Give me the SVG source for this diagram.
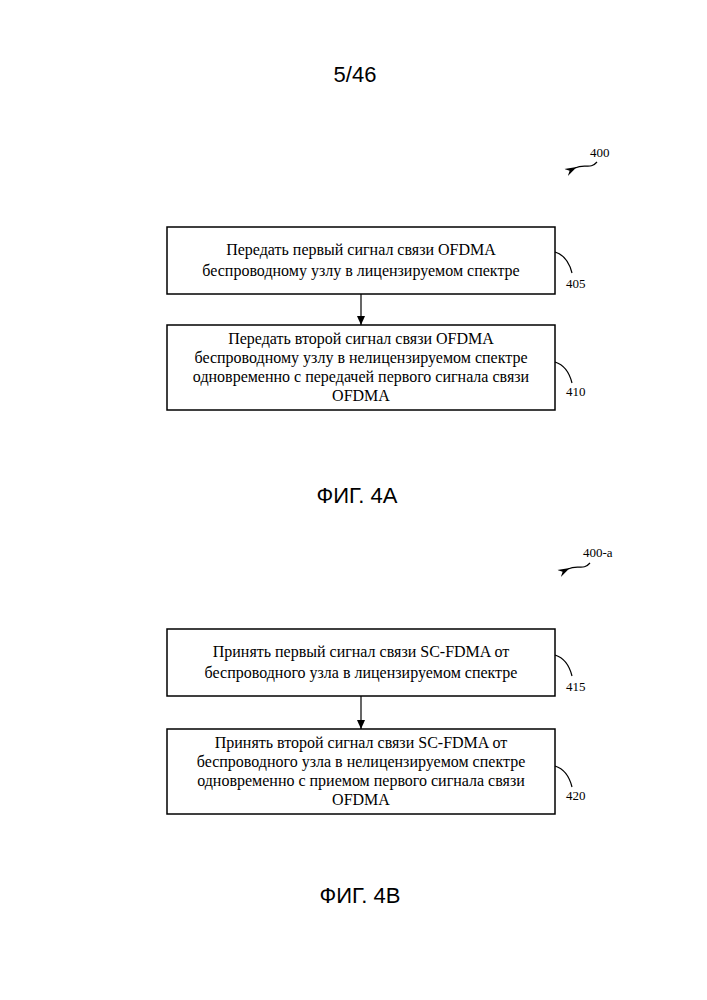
<svg xmlns="http://www.w3.org/2000/svg" width="707" height="1000" viewBox="0 0 707 1000">
<style>
.b{fill:#fff;stroke:#000;stroke-width:1.5}
.t{font-family:"Liberation Serif",serif;font-size:16px;text-anchor:middle}
.r{font-family:"Liberation Serif",serif;font-size:13px}
.h{font-family:"Liberation Sans",sans-serif;font-size:22px;text-anchor:middle}
.c{fill:none;stroke:#000;stroke-width:1.2}
</style>
<defs><marker id="a" markerWidth="10" markerHeight="10" refX="9" refY="5" orient="auto" markerUnits="userSpaceOnUse"><path d="M0,1 L9,5 L0,9 Z"/></marker>
<marker id="q" markerWidth="12" markerHeight="10" refX="2" refY="5" orient="auto" markerUnits="userSpaceOnUse"><path d="M12,1 L0,5 L12,9 L8,5 Z"/></marker></defs>
<text class="h" x="355" y="82" font-size="19">5/46</text>
<g id="lbl400"><text class="r" x="590" y="157" font-size="15">400</text><path class="c" d="M597,162 C590,170 585,163 575,168" marker-end="url(#q)"/></g>
<g id="n405"><rect class="b" x="167" y="227" width="388" height="67"/><text class="t" x="361" y="255">Передать первый сигнал связи OFDMA</text><text class="t" x="361" y="276">беспроводному узлу в лицензируемом спектре</text><path class="c" d="M555,252 C565,255 570,265 572,273"/><text class="r" x="566" y="288">405</text></g>
<g id="n410"><rect class="b" x="167" y="325" width="388" height="85"/><text class="t" x="361" y="344">Передать второй сигнал связи OFDMA</text><text class="t" x="361" y="363">беспроводному узлу в нелицензируемом спектре</text><text class="t" x="361" y="382">одновременно с передачей первого сигнала связи</text><text class="t" x="361" y="401">OFDMA</text><path class="c" d="M555,362 C565,365 570,375 572,383"/><text class="r" x="566" y="396">410</text></g>
<text class="h" x="357" y="503">ФИГ. 4А</text>
<g id="lbl400a"><text class="r" x="583" y="557" font-size="15">400-a</text><path class="c" d="M590,563 C583,571 578,564 568,569" marker-end="url(#q)"/></g>
<g id="n415"><rect class="b" x="167" y="629" width="388" height="67"/><text class="t" x="361" y="657">Принять первый сигнал связи SC-FDMA от</text><text class="t" x="361" y="678">беспроводного узла в лицензируемом спектре</text><path class="c" d="M555,655 C565,658 570,668 572,676"/><text class="r" x="566" y="691">415</text></g>
<g id="n420"><rect class="b" x="167" y="729" width="388" height="85"/><text class="t" x="361" y="748">Принять второй сигнал связи SC-FDMA от</text><text class="t" x="361" y="767">беспроводного узла в нелицензируемом спектре</text><text class="t" x="361" y="786">одновременно с приемом первого сигнала связи</text><text class="t" x="361" y="805">OFDMA</text><path class="c" d="M555,766 C565,769 570,779 572,787"/><text class="r" x="566" y="800">420</text></g>
<text class="h" x="360" y="903">ФИГ. 4В</text>
<g id="connectors"><line class="c" x1="361" y1="294" x2="361" y2="325" marker-end="url(#a)"/><line class="c" x1="361" y1="696" x2="361" y2="729" marker-end="url(#a)"/></g>
</svg>
